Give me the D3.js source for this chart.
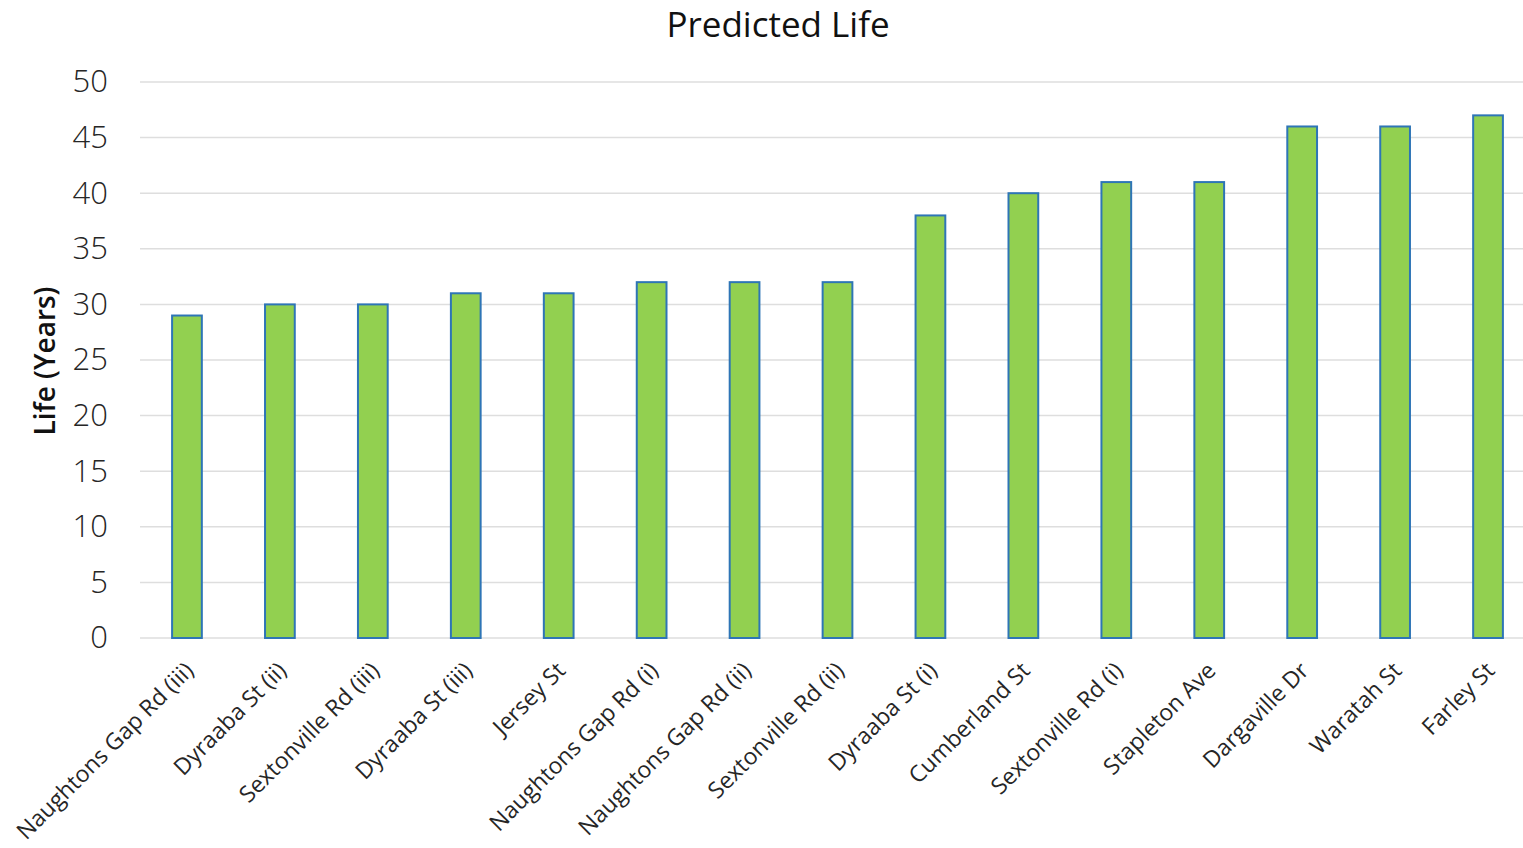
<!DOCTYPE html>
<html>
<head>
<meta charset="utf-8">
<script src="https://cdn.jsdelivr.net/npm/d3@7/dist/d3.min.js"></script>
<style>
  html, body { margin: 0; padding: 0; background: #fff; }
  svg { display: block; }
  text { font-family: "Open Sans", "Noto Sans", sans-serif; }
</style>
</head>
<body>
<svg id="chart" width="1523" height="848"></svg>
<script>
// Predicted remaining life of each road segment, in years
const categories = [
  "Naughtons Gap Rd (iii)", "Dyraaba St (ii)", "Sextonville Rd (iii)", "Dyraaba St (iii)",
  "Jersey St", "Naughtons Gap Rd (i)", "Naughtons Gap Rd (ii)", "Sextonville Rd (ii)",
  "Dyraaba St (i)", "Cumberland St", "Sextonville Rd (i)", "Stapleton Ave",
  "Dargaville Dr", "Waratah St", "Farley St"
];
const lifeYears = [29, 30, 30, 31, 31, 32, 32, 32, 38, 40, 41, 41, 46, 46, 47];
const yTicks = [0, 5, 10, 15, 20, 25, 30, 35, 40, 45, 50];

const svg = d3.select("#chart");
const W = 1523;

const x = d3.scaleBand()
  .domain(categories)
  .range([140.5, 1534.5])
  .paddingInner(0.68)
  .paddingOuter(0.34);

const y = d3.scaleLinear()
  .domain([0, 50])
  .range([638, 82]);

// Title
svg.append("text")
  .attr("x", 778)
  .attr("y", 37)
  .attr("text-anchor", "middle")
  .attr("font-size", 35)
  .attr("fill", "#111")
  .text("Predicted Life");

// Horizontal gridlines
svg.append("g")
  .selectAll("line")
  .data(yTicks)
  .join("line")
  .attr("x1", 140)
  .attr("x2", W)
  .attr("y1", d => y(d))
  .attr("y2", d => y(d))
  .attr("stroke", "#dedede")
  .attr("stroke-width", 1.5);

// Y axis labels
const yAxis = d3.axisLeft(y).tickValues(yTicks).tickSize(0).tickPadding(0);
const yg = svg.append("g")
  .attr("transform", "translate(108,0)")
  .call(yAxis);
yg.select(".domain").remove();
yg.selectAll("text")
  .attr("font-size", 31)
  .attr("font-weight", 300)
  .attr("fill", "#262626")
  .attr("font-family", "'Open Sans', sans-serif");

// Y axis title
svg.append("text")
  .attr("transform", "translate(55,361) rotate(-90)")
  .attr("text-anchor", "middle")
  .attr("font-size", 28)
  .attr("font-weight", 600)
  .attr("fill", "#111")
  .text("Life (Years)");

// Bars
svg.append("g")
  .selectAll("rect")
  .data(lifeYears)
  .join("rect")
  .attr("x", (d, i) => x(categories[i]))
  .attr("y", d => y(d))
  .attr("width", x.bandwidth())
  .attr("height", d => y(0) - y(d))
  .attr("fill", "#92d050")
  .attr("stroke", "#2e75b6")
  .attr("stroke-width", 2);

// X axis labels, rotated
const xAxis = d3.axisBottom(x).tickSize(0).tickPadding(0);
const xg = svg.append("g")
  .attr("transform", "translate(0,638)")
  .call(xAxis);
xg.select(".domain").remove();
xg.selectAll("text")
  .attr("font-size", 23)
  .attr("fill", "#262626")
  .attr("font-family", "'Open Sans', sans-serif")
  .attr("text-anchor", "end")
  .attr("dy", 0)
  .attr("transform", "translate(8,34) rotate(-45)");
</script>
</body>
</html>
